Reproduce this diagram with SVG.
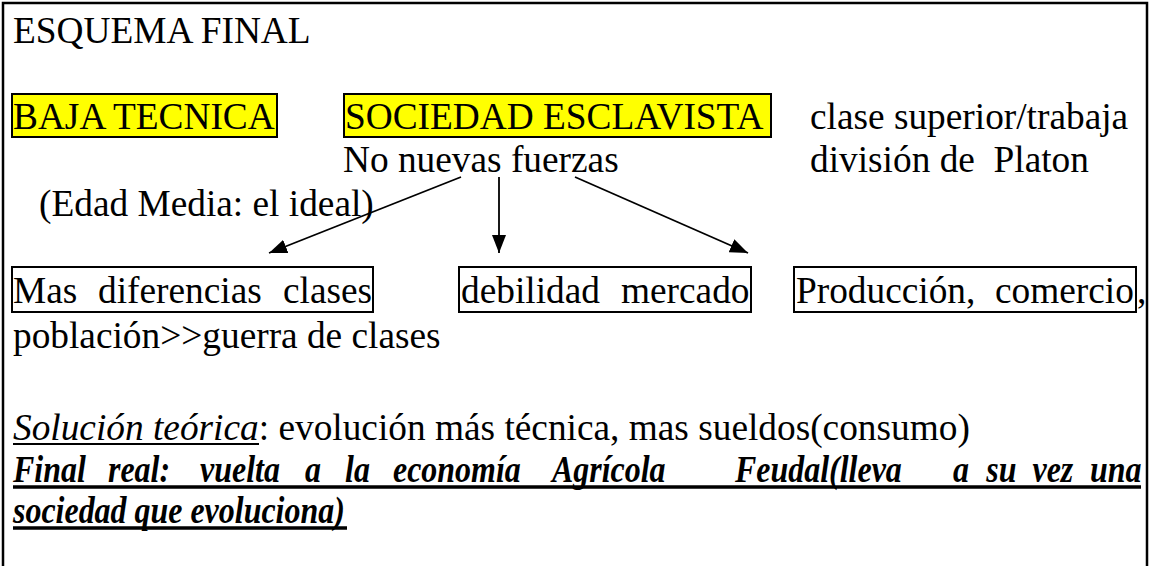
<svg xmlns="http://www.w3.org/2000/svg" width="1152" height="566" viewBox="0 0 1152 566">
<style>
text{font-family:"Liberation Serif","Times New Roman",serif;font-size:37.33px;fill:#000;white-space:pre}
.it{font-style:italic}
.bi{font-style:italic;font-weight:bold}
.hl{fill:#ffff00;stroke:#000;stroke-width:2}
.bx{fill:none;stroke:#000;stroke-width:2}
.ul{stroke:#000;stroke-width:1.8}
.ulb{stroke:#000;stroke-width:3.4}
.conn line{stroke:#000;stroke-width:1.8}
</style>
<defs>
<marker id="ah" markerUnits="userSpaceOnUse" markerWidth="18" markerHeight="14" refX="18" refY="7" orient="auto">
<path d="M0,0 L18,7 L0,14 z" fill="#000"/>
</marker>
</defs>
<rect width="1152" height="566" fill="#fff"/>
<path d="M3,566 V3 H1147 V566" fill="none" stroke="#000" stroke-width="2.5"/>
<g id="title"><text x="13" y="43">ESQUEMA FINAL</text></g>
<g id="baja"><rect class="hl" x="12" y="94" width="265" height="43"/><text x="13" y="129">BAJA TECNICA</text></g>
<g id="sociedad"><rect class="hl" x="344" y="94" width="427" height="43"/><text x="345" y="129">SOCIEDAD ESCLAVISTA</text>
<text x="343" y="172">No nuevas fuerzas</text></g>
<g id="clase"><text x="810" y="129">clase superior/trabaja</text><text x="810" y="172">división de  Platon</text></g>
<g id="edad"><text x="39" y="216">(Edad Media: el ideal)</text></g>
<g class="conn" id="connectors">
<line x1="461" y1="177" x2="269" y2="253" marker-end="url(#ah)"/>
<line x1="499" y1="177" x2="499" y2="253" marker-end="url(#ah)"/>
<line x1="575" y1="177" x2="748" y2="253" marker-end="url(#ah)"/>
</g>
<g id="mas"><rect class="bx" x="12" y="267" width="361" height="45"/>
<text y="303"><tspan x="13">Mas</tspan><tspan x="98">diferencias</tspan><tspan x="283">clases</tspan></text></g>
<g id="debilidad"><rect class="bx" x="459" y="267" width="292" height="45"/>
<text y="303"><tspan x="461">debilidad</tspan><tspan x="621">mercado</tspan></text></g>
<g id="produccion"><rect class="bx" x="794" y="267" width="342" height="45"/>
<text y="303"><tspan x="796">Producción,</tspan><tspan x="995">comercio</tspan><tspan x="1137">,</tspan></text></g>
<g id="poblacion"><text x="13" y="348">población&gt;&gt;guerra de clases</text></g>
<g id="solucion"><text x="13" y="440"><tspan class="it">Solución teórica</tspan>: evolución más técnica, mas sueldos(consumo)</text>
<line class="ul" x1="13" y1="444" x2="259" y2="444"/></g>
<g id="final">
<g transform="translate(13,0) scale(0.856,1)">
<text class="bi" y="482"><tspan x="0">Final</tspan><tspan x="111">real:</tspan><tspan x="218.5">vuelta</tspan><tspan x="341.1">a</tspan><tspan x="387.9">la</tspan><tspan x="443.9">economía</tspan><tspan x="629.7">Agrícola</tspan><tspan x="843.5">Feudal(lleva</tspan><tspan x="1098">a</tspan><tspan x="1137">su</tspan><tspan x="1191">vez</tspan><tspan x="1258.2">una</tspan></text>
<text class="bi" x="0" y="523">sociedad que evoluciona)</text>
</g>
<line class="ulb" x1="13" y1="487" x2="1141" y2="487"/>
<line class="ulb" x1="13" y1="528" x2="347" y2="528"/>
</g>
</svg>
